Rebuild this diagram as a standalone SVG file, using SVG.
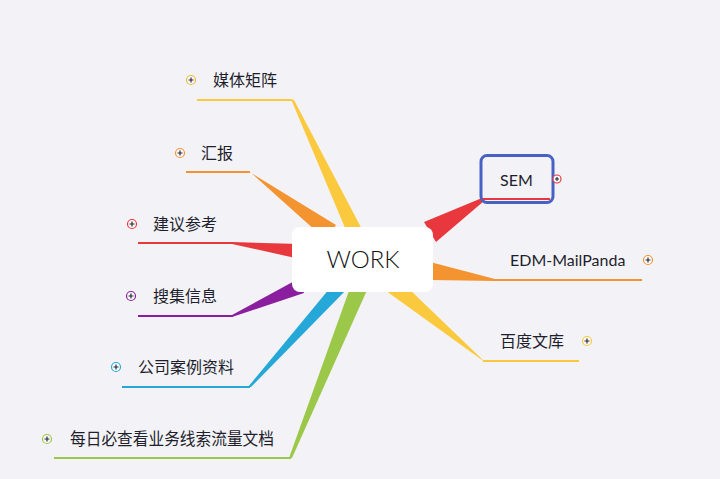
<svg xmlns="http://www.w3.org/2000/svg" width="720" height="479" viewBox="0 0 720 479">
<style>
.t{font-family:"Lato","Noto Sans CJK SC",sans-serif;font-size:16px;fill:#1e1e2c}
.ul{fill:none;stroke-width:2}
.ic{stroke-width:1.2;fill:#fbfbfd}
.pl{stroke:#2a2a3a;stroke-width:1.2}
</style>
<rect width="720" height="479" fill="#f3f3f7"/>
<g id="connectors">
<polygon points="291,99 294,100 365,235 348,235" fill="#fbc93d"/>
<line class="ul" x1="197" y1="100" x2="292" y2="100" stroke="#fbc93d"/>
<polygon points="249,171 251,173 336,225 326,240" fill="#f49431"/>
<line class="ul" x1="186" y1="172" x2="250" y2="172" stroke="#f49431"/>
<polygon points="232,242 300,244 300,259 232,244" fill="#e8383d"/>
<line class="ul" x1="138" y1="243" x2="233" y2="243" stroke="#e8383d"/>
<polygon points="232,315 300,278 304,293 232,317" fill="#8b1e9e"/>
<line class="ul" x1="138" y1="316" x2="233" y2="316" stroke="#8b1e9e"/>
<polygon points="248,387 251,387 348,288 330,288" fill="#25a8d8"/>
<line class="ul" x1="122" y1="387" x2="250" y2="387" stroke="#25a8d8"/>
<polygon points="289,458 292,458 368,288 350,288" fill="#9cc849"/>
<line class="ul" x1="54" y1="458" x2="291" y2="458" stroke="#9cc849"/>
<polygon points="424,222 482,198 484,201 436,242" fill="#e8383d"/>
<polygon points="430,262 495,279 495,281 430,280" fill="#f49431"/>
<line class="ul" x1="494" y1="280" x2="642" y2="280" stroke="#f49431"/>
<polygon points="382,288 482,360 485,362 408,288" fill="#fbc93d"/>
<line class="ul" x1="483" y1="361" x2="579" y2="361" stroke="#fbc93d"/>
</g>
<g id="n-work">
<rect x="292" y="227" width="141" height="65" rx="8" fill="#ffffff"/>
<text x="363" y="267.5" text-anchor="middle" style="font-family:Lato,'Noto Sans',sans-serif;font-size:24px;font-weight:300;fill:#111">WORK</text>
</g>
<g id="n-meiti">
<circle class="ic" cx="191" cy="80" r="4.5" stroke="#f0b43a"/><path class="pl" d="M188.5,80h5M191,77.5v5"/>
<text class="t" x="213" y="86">媒体矩阵</text>
</g>
<g id="n-huibao">
<circle class="ic" cx="180" cy="153" r="4.5" stroke="#f49431"/><path class="pl" d="M177.5,153h5M180,150.5v5"/>
<text class="t" x="201" y="159">汇报</text>
</g>
<g id="n-jianyi">
<circle class="ic" cx="132" cy="224" r="4.5" stroke="#e8383d"/><path class="pl" d="M129.5,224h5M132,221.5v5"/>
<text class="t" x="153" y="230">建议参考</text>
</g>
<g id="n-souji">
<circle class="ic" cx="131" cy="296" r="4.5" stroke="#8b1e9e"/><path class="pl" d="M128.5,296h5M131,293.5v5"/>
<text class="t" x="153" y="302">搜集信息</text>
</g>
<g id="n-gongsi">
<circle class="ic" cx="116" cy="367" r="4.5" stroke="#25a8d8"/><path class="pl" d="M113.5,367h5M116,364.5v5"/>
<text class="t" x="138" y="373">公司案例资料</text>
</g>
<g id="n-meiri">
<circle class="ic" cx="47" cy="439" r="4.5" stroke="#9cc849"/><path class="pl" d="M44.5,439h5M47,436.5v5"/>
<text class="t" x="70" y="445" textLength="204" lengthAdjust="spacingAndGlyphs" style="font-size:17px">每日必查看业务线索流量文档</text>
</g>
<g id="n-sem">
<rect x="481" y="155.5" width="72" height="47" rx="6" fill="none" stroke="#4762c2" stroke-width="3"/>
<line x1="483" y1="199" x2="550" y2="199" stroke="#e8383d" stroke-width="2"/>
<text class="t" x="516.5" y="186" text-anchor="middle">SEM</text>
<circle cx="557" cy="179" r="4" fill="#fbfbfd" stroke="#e8383d" stroke-width="1.2"/><path class="pl" d="M555,179h4M557,177v4"/>
</g>
<g id="n-edm">
<text class="t" x="510" y="266">EDM-MailPanda</text>
<circle class="ic" cx="648" cy="260" r="4.5" stroke="#f49431"/><path class="pl" d="M645.5,260h5M648,257.5v5"/>
</g>
<g id="n-baidu">
<text class="t" x="500" y="347">百度文库</text>
<circle class="ic" cx="587" cy="341" r="4.5" stroke="#fbc93d"/><path class="pl" d="M584.5,341h5M587,338.5v5"/>
</g>
</svg>
